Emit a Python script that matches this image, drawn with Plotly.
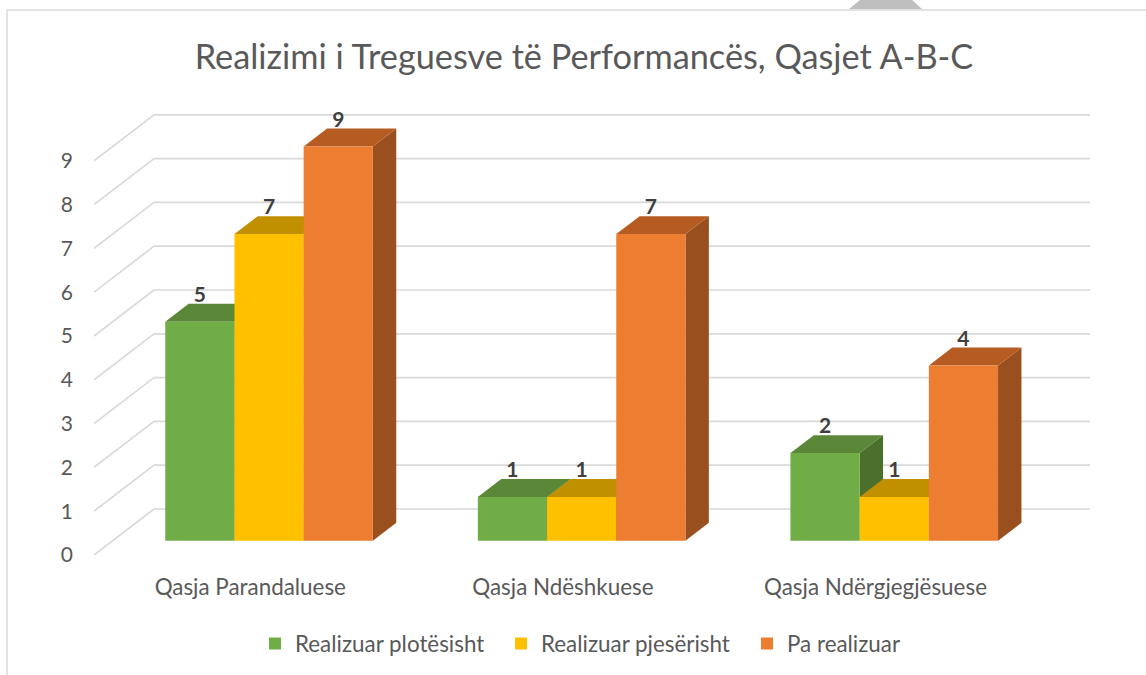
import plotly.graph_objects as go

categories = ["Qasja Parandaluese", "Qasja Ndëshkuese", "Qasja Ndërgjegjësuese"]
series_names = ["Realizuar plotësisht", "Realizuar pjesërisht", "Pa realizuar"]
realizuar_plotesisht = [5, 1, 2]
realizuar_pjeserisht = [7, 1, 1]
pa_realizuar = [9, 7, 4]
y_ticks = [0, 1, 2, 3, 4, 5, 6, 7, 8, 9]
series_values = [realizuar_plotesisht, realizuar_pjeserisht, pa_realizuar]
front_colors = ["#70AD47", "#FFC000", "#ED7D31"]
top_colors = ["#5A8738", "#C09000", "#B65C22"]
side_colors = ["#4A702C", "#A37B00", "#994F1E"]

W, H = 1146, 675
L, R, T, B = 94, 1090, 100, 555   # plot area in pixels
UNIT_X = 312.6                    # pixels per category
UNIT_Y = 43.8                     # pixels per value unit
WALL_DX = 60 / UNIT_X             # floor depth, in category units
WALL_DY = 46 / UNIT_Y             # floor depth, in value units
BAR_W = 69.2 / UNIT_X
BAR_DEPTH = 0.39                  # depth extent of a bar
GROUP_SHIFT = 18.75 / UNIT_X
BASE = 14.3 / UNIT_Y
DX = BAR_DEPTH * WALL_DX
DY = BAR_DEPTH * WALL_DY
x_range = [-0.5, -0.5 + (R - L) / UNIT_X]
y_range = [0, (B - T) / UNIT_Y]

def px(x):
    return (x - L) / (R - L)

def py(y):
    return (B - y) / (B - T)

shapes = []
# Back wall and left wall gridlines
for v in y_ticks:
    shapes.append(dict(type="line", xref="x", yref="y", layer="below",
                       x0=x_range[0], y0=v, x1=x_range[0] + WALL_DX, y1=v + WALL_DY,
                       line=dict(color="#D9D9D9", width=1.7)))
    shapes.append(dict(type="line", xref="x", yref="y", layer="below",
                       x0=x_range[0] + WALL_DX, y0=v + WALL_DY, x1=x_range[1], y1=v + WALL_DY,
                       line=dict(color="#D9D9D9", width=1.7)))

def poly(points, color):
    d = "M" + " L".join(f"{a:.5f},{b:.5f}" for a, b in points) + " Z"
    return dict(type="path", xref="x", yref="y", layer="below", path=d,
                fillcolor=color, line=dict(width=0))

traces = []
for j, vals in enumerate(series_values):
    xs = [i + GROUP_SHIFT + (j - 1) * BAR_W for i in range(len(categories))]
    traces.append(go.Bar(name=series_names[j], x=xs, y=vals, base=[BASE] * len(vals),
                         width=BAR_W, marker=dict(color=front_colors[j], line=dict(width=0))))

# Depth faces, painted left to right; the front faces (bars) sit above all of them
for i in range(len(categories)):
    for j, vals in enumerate(series_values):
        xc = i + GROUP_SHIFT + (j - 1) * BAR_W
        x0, x1 = xc - BAR_W / 2, xc + BAR_W / 2
        top = BASE + vals[i]
        shapes.append(poly([(x1, BASE), (x1 + DX, BASE + DY), (x1 + DX, top + DY), (x1, top)], side_colors[j]))
        shapes.append(poly([(x0, top), (x1, top), (x1 + DX, top + DY), (x0 + DX, top + DY)], top_colors[j]))

# Data labels
lx, ly, lt = [], [], []
for j, vals in enumerate(series_values):
    for i, v in enumerate(vals):
        lx.append(i + GROUP_SHIFT + (j - 1) * BAR_W)
        ly.append(BASE + v + 25 / UNIT_Y)
        lt.append(f"<b>{v}</b>")
traces.append(go.Scatter(x=lx, y=ly, text=lt, mode="text", showlegend=False, cliponaxis=False,
                         textposition="middle center",
                         textfont=dict(family="Lato", size=21, color="#404040")))

# Frame of the picture
frame = "#D9D9D9"
shapes.append(dict(type="line", xref="paper", yref="paper", x0=px(7), y0=py(10), x1=px(W), y1=py(10),
                   line=dict(color=frame, width=1.5)))
shapes.append(dict(type="line", xref="paper", yref="paper", x0=px(7), y0=py(10), x1=px(7), y1=py(H),
                   line=dict(color=frame, width=1.5)))
corner = [(849, 9), (860, 0), (912, 0), (922, 9)]
shapes.append(dict(type="path", xref="paper", yref="paper", fillcolor="#BFBFBF", line=dict(width=0),
                   path="M" + " L".join(f"{px(a):.5f},{py(b):.5f}" for a, b in corner) + " Z"))

fig = go.Figure(traces)
fig.update_layout(
    width=W, height=H, autosize=False,
    margin=dict(l=L, r=W - R, t=T, b=H - B, pad=0),
    plot_bgcolor="white", paper_bgcolor="white",
    barmode="overlay", shapes=shapes, hovermode=False,
    font=dict(family="Lato", color="#595959"),
    title=dict(text="Realizimi i Treguesve të Performancës, Qasjet A-B-C",
               x=584 / W, xanchor="center", xref="container", y=1 - 57 / H, yanchor="middle",
               font=dict(family="Lato", size=34.3, color="#595959")),
    xaxis=dict(range=x_range, tickmode="array", tickvals=list(range(len(categories))), ticktext=categories,
               showgrid=False, zeroline=False, showline=False, ticks="", ticklabelstandoff=17,
               tickfont=dict(family="Lato", size=22.4, color="#595959"), automargin=False),
    yaxis=dict(range=y_range, tickmode="array", tickvals=y_ticks, showgrid=False, zeroline=False,
               showline=False, ticks="", ticklabelstandoff=20,
               tickfont=dict(family="Lato", size=21, color="#595959"), automargin=False),
    legend=dict(orientation="h", xref="container", yref="container", x=255 / W, y=1 - 644 / H,
                xanchor="left", yanchor="middle",
                entrywidth=201, entrywidthmode="pixels", traceorder="normal",
                font=dict(family="Lato", size=22.4, color="#595959"), bgcolor="rgba(0,0,0,0)"),
)
fig.write_html("out.html", config={"displayModeBar": False},
               post_script="document.body.style.margin='0';document.body.style.overflow='hidden';")
